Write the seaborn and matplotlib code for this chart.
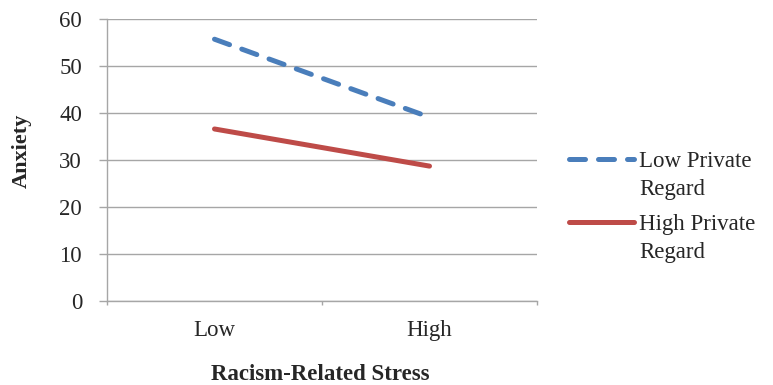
import matplotlib
matplotlib.use("Agg")
import matplotlib.pyplot as plt
from matplotlib.legend_handler import HandlerLine2D
import seaborn as sns
import pandas as pd

stress_levels = ["Low", "High"]
low_private_regard = [55.7, 39.1]
high_private_regard = [36.6, 28.7]
series_names = ["Low Private\nRegard", "High Private\nRegard"]
y_ticks = [0, 10, 20, 30, 40, 50, 60]

sns.set_theme(style="white")
plt.rcParams["font.family"] = ["Liberation Serif", "DejaVu Serif"]

df = pd.DataFrame({
    "x": [0, 1] * 2,
    "anxiety": low_private_regard + high_private_regard,
    "group": [series_names[0]] * 2 + [series_names[1]] * 2,
})

FS = 16.5

fig = plt.figure(figsize=(7.73, 3.85), dpi=100)
ax = fig.add_axes([107 / 773, 84 / 385, 430 / 773, 282 / 385])

sns.lineplot(
    data=df, x="x", y="anxiety", hue="group", style="group",
    palette={series_names[0]: "#4a7ebb", series_names[1]: "#be4b48"},
    dashes={series_names[0]: (3.2, 2.6), series_names[1]: ""},
    linewidth=3.6, ax=ax, legend=True,
)
for ln in ax.get_lines():
    ln.set_solid_capstyle("round")
    ln.set_dash_capstyle("round")

ax.set_xlim(-0.5, 1.5)
ax.set_ylim(0, 60)
ax.set_yticks(y_ticks)
ax.set_xticks([0, 1])
ax.set_xticklabels(stress_levels)
ax.set_xticks([-0.5, 0.5, 1.5], minor=True)
ax.yaxis.grid(True, color="#a6a6a6", linewidth=1.0)
ax.set_axisbelow(True)
for s in ["top", "right"]:
    ax.spines[s].set_visible(False)
for s in ["left", "bottom"]:
    ax.spines[s].set_color("#a6a6a6")
    ax.spines[s].set_linewidth(1.0)

ax.tick_params(axis="y", which="major", length=6, color="#a6a6a6", width=1.0,
               labelsize=FS, pad=12, left=True)
ax.tick_params(axis="x", which="major", length=0, labelsize=FS, pad=14)
ax.tick_params(axis="x", which="minor", length=3, color="#a6a6a6", width=1.0, bottom=True)

ax.set_ylabel("Anxiety", fontsize=16, fontweight="bold")
ax.yaxis.set_label_coords(-0.174, 0.532)
ax.set_xlabel("Racism-Related Stress", fontsize=16.5, fontweight="bold")
ax.xaxis.set_label_coords(0.495, -0.222)


class FirstLineHandler(HandlerLine2D):
    def create_artists(self, legend, orig_handle, xdescent, ydescent,
                       width, height, fontsize, trans):
        shift = 0.72 * fontsize
        return super().create_artists(legend, orig_handle, xdescent,
                                      ydescent - 2 * shift, width, height,
                                      fontsize, trans)


handles, labels = ax.get_legend_handles_labels()
leg = ax.legend(handles, labels, loc="upper left", bbox_to_anchor=(569 / 773, 1 - 151 / 385),
                bbox_transform=fig.transFigure, frameon=False, fontsize=FS,
                handlelength=2.85, handletextpad=0.22, labelspacing=0.6,
                borderaxespad=0, borderpad=0,
                handler_map={h: FirstLineHandler() for h in handles})
for t in leg.get_texts():
    t.set_linespacing(1.45)

fig.savefig("out.png", dpi=100)
